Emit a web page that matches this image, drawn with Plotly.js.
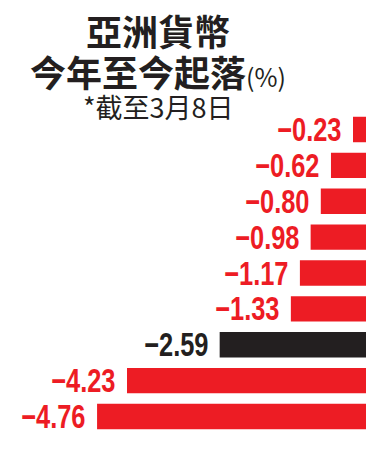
<!DOCTYPE html>
<html><head><meta charset="utf-8">
<script src="https://cdn.plot.ly/plotly-3.0.1.min.js"></script>
<style>html,body{margin:0;padding:0;background:#fff;}</style>
</head><body><div id="chart" style="width:366px;height:450px;"></div>
<script>
const categories = ["c1","c2","c3","c4","c5","c6","c7","c8","c9"];
const values = [-0.23,-0.62,-0.80,-0.98,-1.17,-1.33,-2.59,-4.23,-4.76];
const barColors = ["#ED1C24","#ED1C24","#ED1C24","#ED1C24","#ED1C24","#ED1C24","#231F20","#ED1C24","#ED1C24"];
const labels = values.map(v => "\u2212" + Math.abs(v).toFixed(2));
const titleLines = ["<b>亞洲貨幣</b>", "<b>今年至今起落</b><span style=\"font-size:25px;font-weight:normal\">(%)</span>", "*截至3月8日"];

const labelFont = "'Liberation Sans', Arial, sans-serif";
const cjk = "'Noto Sans CJK TC', 'Noto Sans CJK SC', sans-serif";

const annotations = values.map((v,i) => ({
  x: v, y: categories[i], xref:'x', yref:'y',
  text: '<b>' + labels[i] + '</b>', showarrow:false,
  xanchor:'right', yanchor:'middle', xshift:-9,
  font:{family:labelFont, size:33, color:barColors[i]}
}));
const titleY = [30, 71, 106];
const titleSize = [36, 36, 27];
titleLines.forEach((t,i) => annotations.push({
  xref:'paper', yref:'paper', x:0.432, y: 1 + (109 - titleY[i]) / 328.5,
  text:t, showarrow:false, xanchor:'center', yanchor:'middle',
  font:{family:cjk, size:titleSize[i], color:'#231F20'}
}));

Plotly.newPlot('chart', [{
  type:'bar', orientation:'h', x:values, y:categories,
  marker:{color:barColors, line:{width:0}}, width:0.71,
  hoverinfo:'none'
}], {
  width:366, height:450,
  margin:{l:0, r:0, t:109, b:13, pad:0},
  paper_bgcolor:'#fff', plot_bgcolor:'#fff',
  showlegend:false,
  xaxis:{range:[-6.478, 0], visible:false, fixedrange:true},
  yaxis:{type:'category', autorange:'reversed', visible:false, fixedrange:true},
  annotations:annotations
}, {staticPlot:true, displayModeBar:false}).then(() => {
  // condense value labels horizontally (narrow newspaper face), anchored at right edge
  const texts = document.querySelectorAll('#chart .annotation-text');
  for (let i = 0; i < values.length && i < texts.length; i++) {
    const t = texts[i];
    const bb = t.getBBox();
    const r = bb.x + bb.width;
    t.setAttribute('transform', `translate(${r},0) scale(0.77,1) translate(${-r},0)`);
  }
});
</script></body></html>
